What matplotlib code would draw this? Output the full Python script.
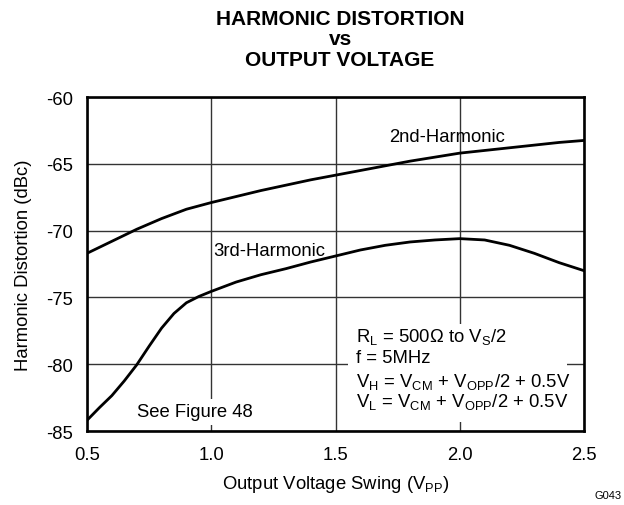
import matplotlib.pyplot as plt
from matplotlib.patches import Rectangle

plt.rcParams['font.family'] = ['Liberation Sans', 'DejaVu Sans']
plt.rcParams['mathtext.fontset'] = 'custom'
plt.rcParams['mathtext.rm'] = 'Liberation Sans'
plt.rcParams['mathtext.it'] = 'Liberation Sans'
plt.rcParams['axes.unicode_minus'] = False

# output swing (Vpp) vs distortion (dBc)
vpp_2nd = [0.5, 0.6, 0.7, 0.8, 0.9, 1.0, 1.2, 1.4, 1.6, 1.8, 2.0, 2.2, 2.4, 2.5]
hd2 = [-71.7, -70.8, -69.9, -69.1, -68.4, -67.9, -67.0, -66.2, -65.5, -64.8,
       -64.2, -63.8, -63.4, -63.25]

vpp_3rd = [0.5, 0.55, 0.6, 0.65, 0.7, 0.75, 0.8, 0.85, 0.9, 0.95, 1.0, 1.1, 1.2,
           1.3, 1.4, 1.5, 1.6, 1.7, 1.8, 1.9, 2.0, 2.1, 2.2, 2.3, 2.4, 2.5]
hd3 = [-84.2, -83.25, -82.35, -81.25, -80.05, -78.65, -77.3, -76.2, -75.4, -74.93,
       -74.55, -73.85, -73.3, -72.85, -72.35, -71.9, -71.45, -71.1, -70.85, -70.7,
       -70.6, -70.7, -71.1, -71.7, -72.4, -73.0]

x_ticks = [0.5, 1.0, 1.5, 2.0, 2.5]
y_ticks = [-85, -80, -75, -70, -65, -60]

notes = [r'R$\mathregular{_L}$ = 500$\mathregular{\Omega}$ to V$\mathregular{_S}$/2',
         'f = 5MHz',
         r'V$\mathregular{_H}$ = V$\mathregular{_{CM}}$ + V$\mathregular{_{OPP}}$/2 + 0.5V',
         r'V$\mathregular{_L}$ = V$\mathregular{_{CM}}$ + V$\mathregular{_{OPP}}$/2 + 0.5V']
notes_y = [-78.26, -79.83, -81.6, -83.1]

fs = 13.3

fig = plt.figure(figsize=(6.24, 5.06), dpi=100)
ax = fig.add_axes([0.1394, 0.1462, 0.7966, 0.6601])

ax.plot(vpp_2nd, hd2, color='k', lw=2.0, zorder=3)
ax.plot(vpp_3rd, hd3, color='k', lw=2.0, zorder=3)

ax.set_xlim(0.5, 2.5)
ax.set_ylim(-85, -60)
ax.set_xticks(x_ticks)
ax.set_xticklabels(['%.1f' % v for v in x_ticks])
ax.set_yticks(y_ticks)
ax.tick_params(length=0, labelsize=fs)
ax.tick_params(axis='x', pad=11)
ax.tick_params(axis='y', pad=10)
ax.grid(True, color='#333333', lw=1.0, zorder=1)
ax.set_axisbelow(True)
for sp in ax.spines.values():
    sp.set_linewidth(1.9)

ax.set_xlabel(r'Output Voltage Swing (V$\mathregular{_{PP}}$)', fontsize=fs, labelpad=7)
ax.set_ylabel('Harmonic Distortion (dBc)', fontsize=fs, labelpad=10)

# three-line title
for txt, yy in zip(['HARMONIC DISTORTION', 'vs', 'OUTPUT VOLTAGE'],
                   [0.962, 0.921, 0.881]):
    fig.text(0.545, yy, txt, fontsize=15, fontweight='bold',
             ha='center', va='center')

ax.text(1.947, -63.3, '2nd-Harmonic', fontsize=fs, ha='center', va='baseline',
        zorder=4)
ax.text(1.232, -71.8, '3rd-Harmonic', fontsize=fs, ha='center', va='baseline',
        zorder=4)
ax.text(0.701, -83.9, 'See Figure 48', fontsize=fs, ha='left', va='baseline',
        bbox=dict(facecolor='white', edgecolor='none', pad=3), zorder=2)

# white panel behind the test conditions
ax.add_patch(Rectangle((1.55, -84.3), 0.88, 7.3, facecolor='white',
                       edgecolor='none', zorder=2))
for line, yy in zip(notes, notes_y):
    ax.text(1.582, yy, line, fontsize=fs, ha='left', va='baseline', zorder=4)

fig.text(0.974, 0.02, 'G043', fontsize=8, ha='center', va='center')

fig.savefig('out.png', dpi=100)
